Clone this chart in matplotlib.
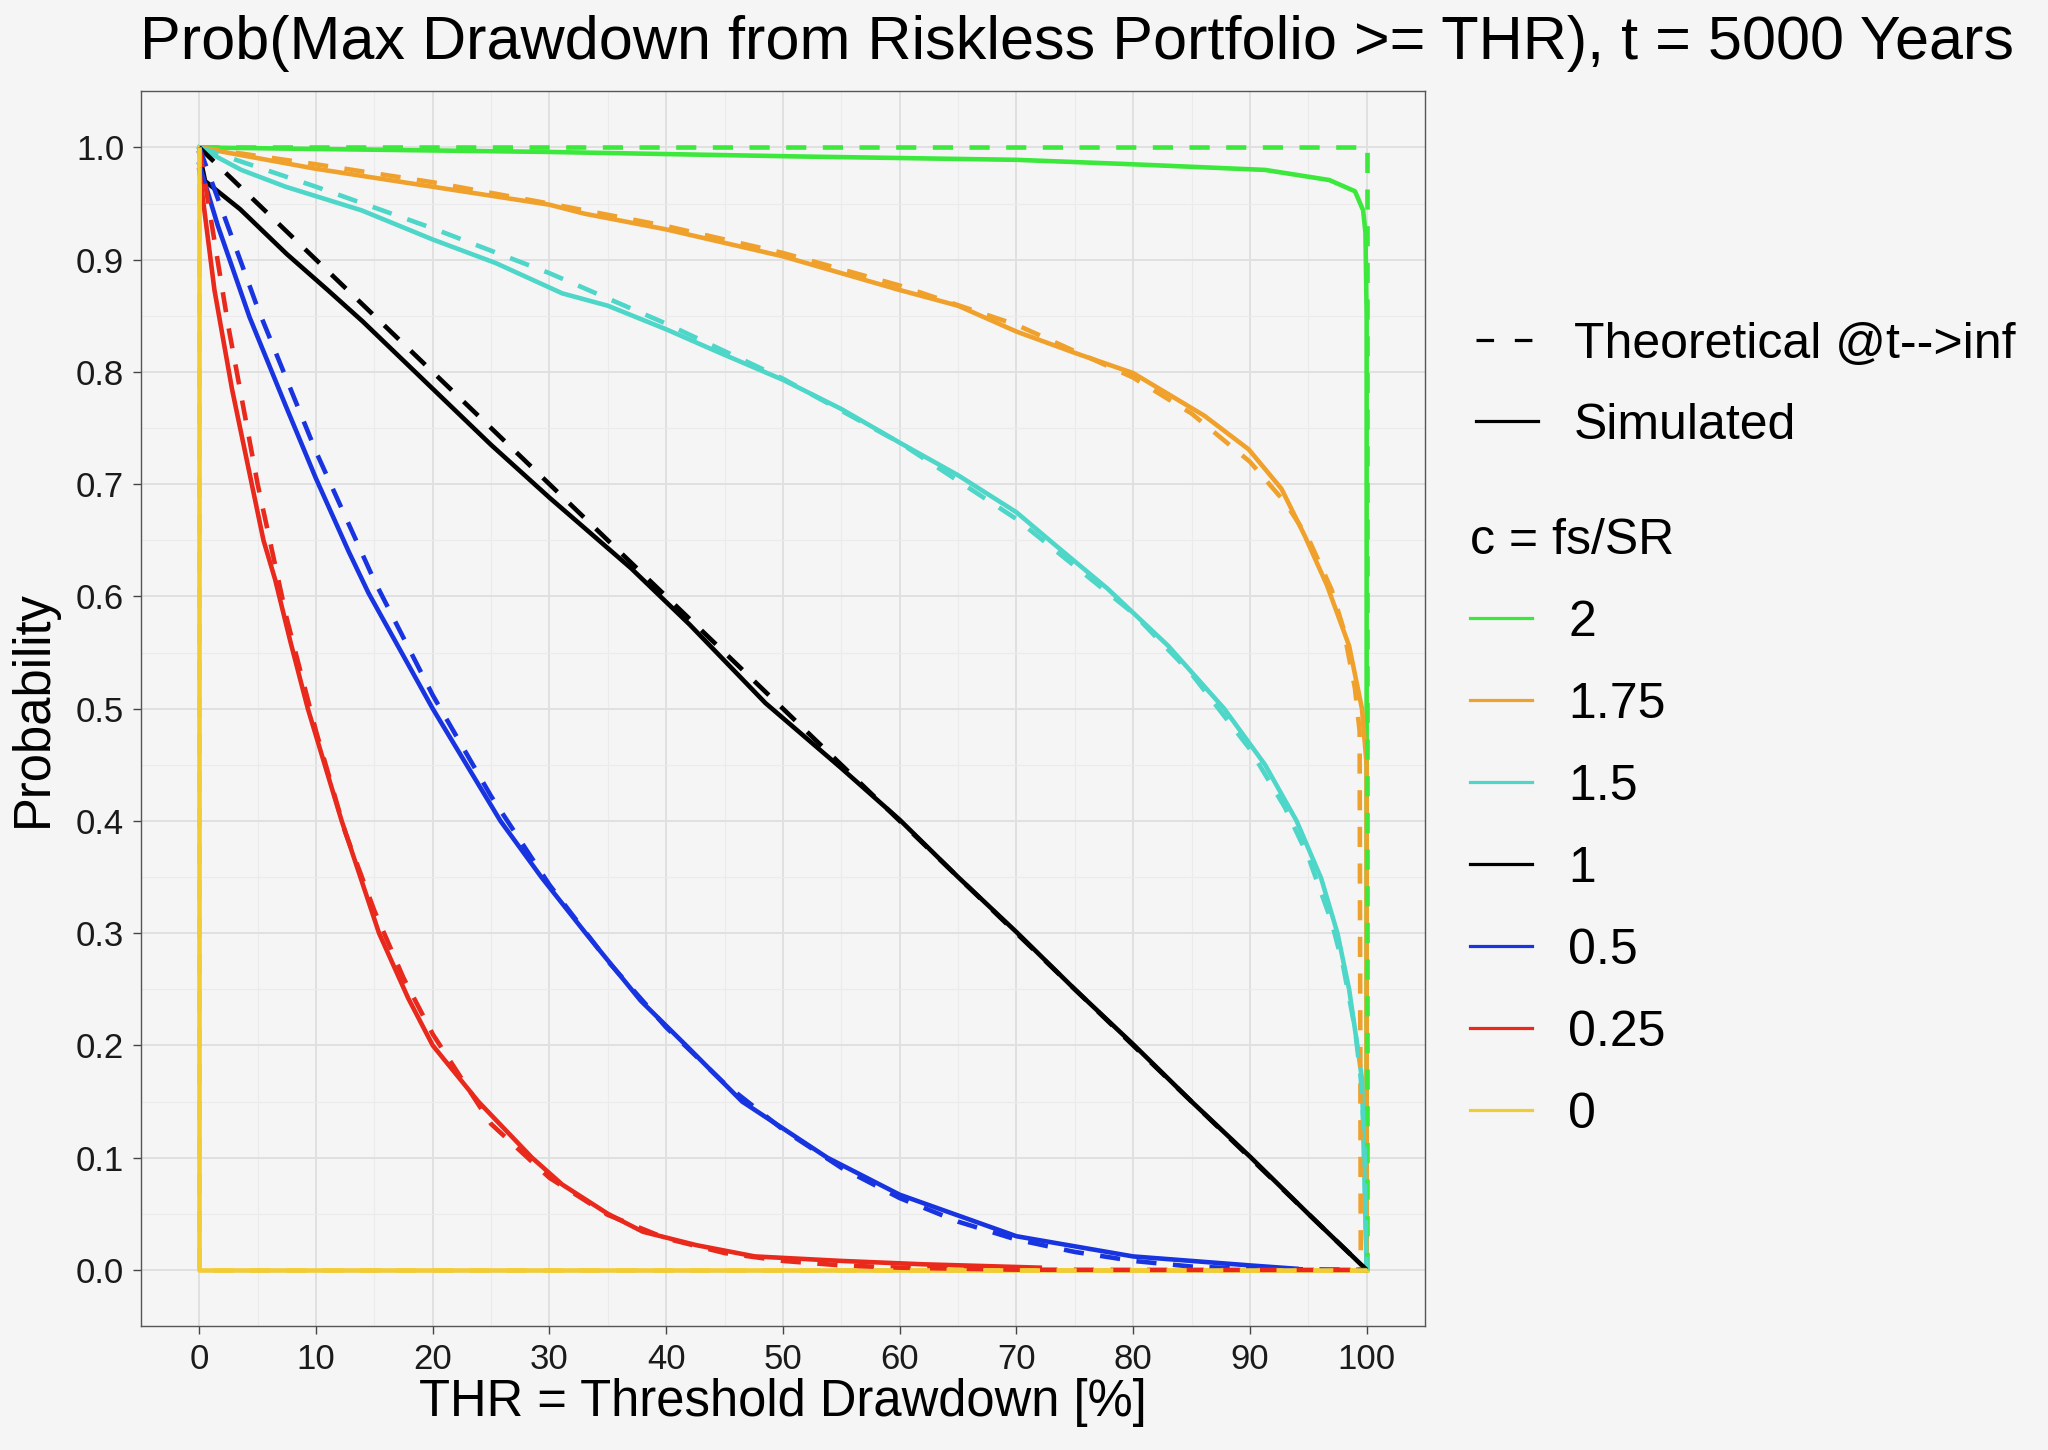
import numpy as np
import matplotlib
matplotlib.use("Agg")
import matplotlib.pyplot as plt
from matplotlib.lines import Line2D

plt.rcParams['font.family'] = ['Liberation Sans', 'DejaVu Sans']

# --- dados (THR em %, probabilidade) ---
c_labels = ["2", "1.75", "1.5", "1", "0.5", "0.25", "0"]
c_colors = ["#3be83b", "#f0a12c", "#4ed6c8", "#000000", "#1734e0", "#e8291c", "#f2cc35"]

# curvas teóricas (t -> inf)
theo_x_2 = [0, 100, 100]
theo_y_2 = [1.0, 1.0, 0.0]
theo_x_175 = [0, 10, 20, 30, 40, 50, 60, 70, 80, 85, 90, 93, 95, 97, 98, 99, 99.4, 99.5, 100]
theo_y_175 = [1.0, 0.985, 0.969, 0.950, 0.930, 0.906, 0.877, 0.842, 0.795, 0.763, 0.720, 0.684, 0.652, 0.606, 0.572, 0.518, 0.48, 0.0, 0.0]
theo_x_15 = [0, 10, 20, 30, 40, 50, 60, 70, 80, 85, 90, 93, 95, 97, 98, 99, 99.5, 99.8, 100]
theo_y_15 = [1.0, 0.965, 0.928, 0.888, 0.843, 0.794, 0.737, 0.669, 0.585, 0.531, 0.464, 0.412, 0.368, 0.31, 0.27, 0.215, 0.17, 0.12, 0.0]
theo_x_1 = [0, 25, 50, 75, 100]
theo_y_1 = [1.0, 0.75, 0.5, 0.25, 0.0]
theo_x_05 = [0, 5, 10, 15, 20, 25, 30, 35, 40, 45, 50, 55, 60, 65, 70, 75, 80, 85, 90, 100]
theo_y_05 = [1.0, 0.857, 0.729, 0.614, 0.512, 0.422, 0.343, 0.275, 0.216, 0.166, 0.125, 0.091,
             0.064, 0.043, 0.027, 0.016, 0.008, 0.003, 0.001, 0.0]
theo_x_025 = [0, 2.5, 5, 7.5, 10, 12.5, 15, 17.5, 20, 25, 30, 35, 40, 45, 50, 55, 60, 70, 80, 100]
theo_y_025 = [1.0, 0.84, 0.70, 0.58, 0.48, 0.39, 0.32, 0.26, 0.21, 0.13, 0.082, 0.049, 0.028,
              0.015, 0.008, 0.004, 0.002, 0.0002, 0.0, 0.0]
theo_x_0 = [0, 0, 100]
theo_y_0 = [1.0, 0.0, 0.0]

# curvas simuladas (t = 5000 anos)
sim_x_2 = [0, 30, 51.3, 70, 80, 91.3, 96.8, 99, 99.7, 99.9, 100, 100]
sim_y_2 = [1.0, 0.996, 0.992, 0.989, 0.985, 0.980, 0.971, 0.961, 0.944, 0.924, 0.85, 0.0]
sim_x_175 = [0, 10, 20, 30, 33, 40, 50, 60, 65, 70, 75, 80, 86.1, 89.9, 92.7, 94.7, 96.6, 98.5, 99.6, 100, 100]
sim_y_175 = [1.0, 0.981, 0.965, 0.949, 0.941, 0.927, 0.903, 0.873, 0.859, 0.836, 0.817, 0.799,
             0.761, 0.731, 0.696, 0.654, 0.61, 0.556, 0.5, 0.45, 0.0]
sim_x_15 = [0, 3.6, 7.4, 13.9, 20, 25.4, 31.1, 35, 40, 44.6, 50, 55, 60, 65, 70, 73.3, 77.8,
            83, 87.8, 91.3, 94, 96.1, 97.5, 98.5, 99.2, 99.6, 100]
sim_y_15 = [1.0, 0.98, 0.965, 0.944, 0.918, 0.897, 0.870, 0.859, 0.838, 0.817, 0.793, 0.767,
            0.737, 0.708, 0.675, 0.646, 0.607, 0.556, 0.5, 0.45, 0.4, 0.349, 0.3, 0.25, 0.2, 0.17, 0.0]
sim_x_1 = [0, 0.5, 3.5, 7.5, 11, 14, 18.5, 25, 30, 37, 42, 48.5, 55, 60, 65, 70, 75, 80, 85, 90, 95, 100]
sim_y_1 = [0.995, 0.97, 0.945, 0.905, 0.873, 0.845, 0.80, 0.735, 0.688, 0.625, 0.575, 0.505,
           0.447, 0.401, 0.35, 0.301, 0.25, 0.201, 0.15, 0.101, 0.05, 0.0]
sim_x_05 = [0, 1.6, 4.3, 7.4, 10, 12.8, 14.5, 20, 25.8, 29.3, 33.1, 37.8, 41.7, 46.5, 53.8, 60, 70, 80, 90, 94]
sim_y_05 = [0.985, 0.93, 0.849, 0.77, 0.705, 0.64, 0.603, 0.5, 0.4, 0.35, 0.3, 0.24, 0.2, 0.15,
            0.1, 0.067, 0.030, 0.012, 0.004, 0.001]
sim_x_025 = [0, 1.3, 2.8, 4.3, 5.5, 6.5, 7.8, 9.3, 12.2, 15.4, 17.9, 20, 23.9, 28.5, 31.1, 35, 38,
             42.6, 47.6, 55, 62, 72]
sim_y_025 = [0.98, 0.873, 0.785, 0.71, 0.65, 0.615, 0.56, 0.5, 0.4, 0.3, 0.242, 0.2, 0.15, 0.1,
             0.076, 0.05, 0.034, 0.022, 0.012, 0.008, 0.005, 0.002]
sim_x_0 = [0, 0, 100]
sim_y_0 = [1.0, 0.0, 0.0]

theo_x = [theo_x_2, theo_x_175, theo_x_15, theo_x_1, theo_x_05, theo_x_025, theo_x_0]
theo_y = [theo_y_2, theo_y_175, theo_y_15, theo_y_1, theo_y_05, theo_y_025, theo_y_0]
sim_x = [sim_x_2, sim_x_175, sim_x_15, sim_x_1, sim_x_05, sim_x_025, sim_x_0]
sim_y = [sim_y_2, sim_y_175, sim_y_15, sim_y_1, sim_y_05, sim_y_025, sim_y_0]

bg = "#f5f5f5"
fig = plt.figure(figsize=(20.48, 14.5), dpi=100, facecolor=bg)
ax = fig.add_axes([0.0688, 0.0855, 0.627, 0.8515], facecolor=bg)

# simuladas primeiro, teóricas por cima
for xs, ys, col in zip(sim_x, sim_y, c_colors):
    ax.plot(xs, ys, color=col, lw=3.3, solid_joinstyle='round', zorder=3)
for xs, ys, col in zip(theo_x, theo_y, c_colors):
    ax.plot(xs, ys, color=col, lw=3.3, linestyle=(0, (4.4, 3.6)), zorder=4)

ax.set_xlim(-5, 105)
ax.set_ylim(-0.05, 1.05)
ax.set_xticks(np.arange(0, 101, 10))
ax.set_xticks(np.arange(5, 101, 10), minor=True)
ax.set_yticks(np.arange(0, 1.01, 0.1))
ax.set_yticks(np.arange(0.05, 1.0, 0.1), minor=True)
ax.set_yticklabels([f"{v:.1f}" for v in np.arange(0, 1.01, 0.1)])
ax.grid(True, which='major', color='#e0e0e0', lw=1.4)
ax.grid(True, which='minor', color='#ebebeb', lw=0.8)
ax.set_axisbelow(True)
ax.tick_params(which='major', length=6, width=1, color='#444', labelsize=25, labelcolor='#1a1a1a', pad=6)
ax.tick_params(which='minor', length=0)
for s in ax.spines.values():
    s.set_color('#555')
    s.set_linewidth(1)

ax.set_xlabel("THR = Threshold Drawdown [%]", fontsize=36.5, labelpad=2)
ax.set_ylabel("Probability", fontsize=36.5, labelpad=13)
fig.suptitle("Prob(Max Drawdown from Riskless Portfolio >= THR), t = 5000 Years",
             fontsize=44, x=0.526, y=0.99)

# legenda do tipo de linha
h1 = [Line2D([], [], color='black', lw=2.3, linestyle=(0, (5.5, 6.5))),
      Line2D([], [], color='black', lw=2.3)]
leg1 = fig.legend(h1, ["Theoretical @t-->inf", "Simulated"], loc='upper left',
                  bbox_to_anchor=(0.7207, 0.778), frameon=False, fontsize=36,
                  borderpad=0, borderaxespad=0,
                  handlelength=1.24, handletextpad=0.72, labelspacing=0.70)
# legenda das cores
h2 = [Line2D([], [], color=col, lw=2.3) for col in c_colors]
leg2 = fig.legend(h2, c_labels, title="c = fs/SR", loc='upper left',
                  bbox_to_anchor=(0.718, 0.643), frameon=False, fontsize=36,
                  title_fontsize=36, borderpad=0, borderaxespad=0,
                  handlelength=1.24, handletextpad=0.72, labelspacing=0.72)
leg2._legend_box.align = "left"

fig.savefig("out.png", dpi=100, facecolor=bg)
